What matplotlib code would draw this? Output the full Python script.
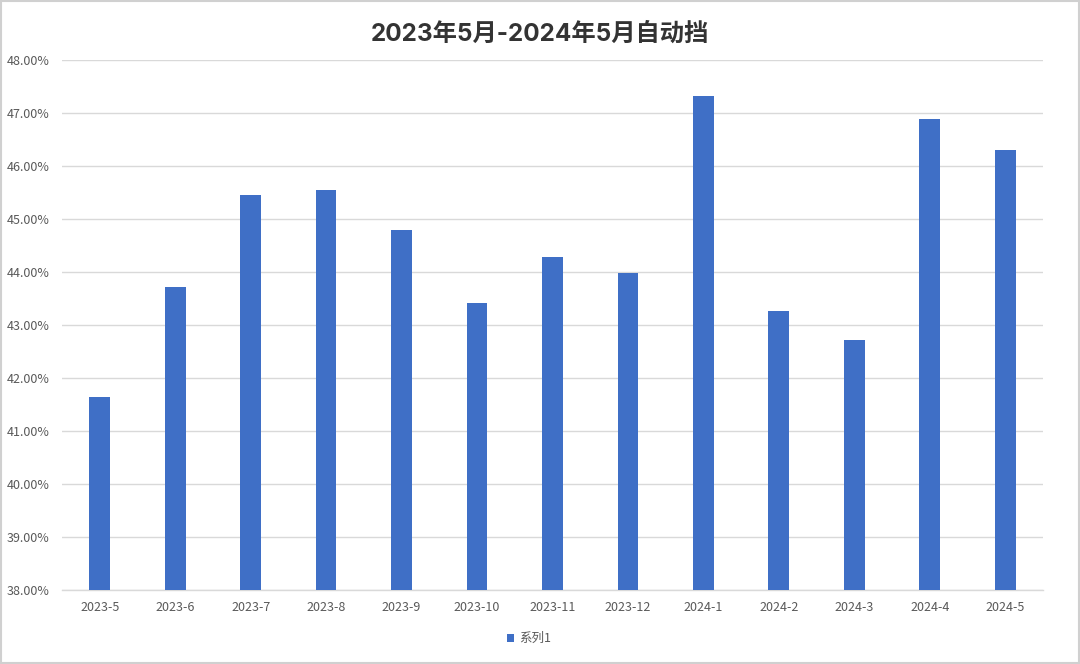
import matplotlib
matplotlib.use("Agg")
import matplotlib.pyplot as plt
from matplotlib.ticker import FuncFormatter, MultipleLocator

plt.rcParams['font.family'] = ['Noto Sans CJK SC', 'DejaVu Sans']

categories = ["2023-5", "2023-6", "2023-7", "2023-8", "2023-9", "2023-10", "2023-11",
              "2023-12", "2024-1", "2024-2", "2024-3", "2024-4", "2024-5"]
values = [41.64, 43.71, 45.46, 45.54, 44.79, 43.42, 44.28,
          43.98, 47.32, 43.26, 42.72, 46.89, 46.30]
series_name = "系列1"
title = "2023年5月-2024年5月自动挡"

fig = plt.figure(figsize=(10.8, 6.64), dpi=100)
fig.patch.set_facecolor('white')
ax = fig.add_axes([0.0574, 0.1114, 0.9083, 0.7982])

x = list(range(len(categories)))
bars = ax.bar(x, values, width=0.275, color='#3F6FC6', label=series_name, zorder=3)

ax.set_ylim(38, 48)
ax.set_xlim(-0.5, len(categories) - 0.5)
ax.yaxis.set_major_locator(MultipleLocator(1))
ax.yaxis.set_major_formatter(FuncFormatter(lambda v, p: f"{v:.2f}%"))
ax.set_xticks(x)
ax.set_xticklabels(categories)

ax.grid(axis='y', color='#d9d9d9', linewidth=1.0, zorder=0)
for s in ['top', 'right', 'left']:
    ax.spines[s].set_visible(False)
ax.spines['bottom'].set_color('#d9d9d9')
ax.spines['bottom'].set_linewidth(1.0)
ax.tick_params(axis='both', length=0, labelsize=9, colors='#595959')
ax.tick_params(axis='x', pad=8)
ax.tick_params(axis='y', pad=9)

fig.text(0.5, 0.948, title, ha='center', va='center', fontsize=17.5,
         fontweight='bold', color='#333333', family=['Inter', 'Noto Sans CJK SC'])

leg = fig.legend(handles=[bars], labels=[series_name], loc='center',
                 bbox_to_anchor=(0.49, 0.038), frameon=False, fontsize=9,
                 handlelength=0.6, handleheight=0.6, handletextpad=0.4)
for t in leg.get_texts():
    t.set_color('#595959')

border = plt.Rectangle((0.001, 0.001), 0.998, 0.998, transform=fig.transFigure,
                       fill=False, edgecolor='#d0d0d0', linewidth=1.5)
fig.patches.append(border)

fig.savefig("out.png", dpi=100, facecolor='white')
